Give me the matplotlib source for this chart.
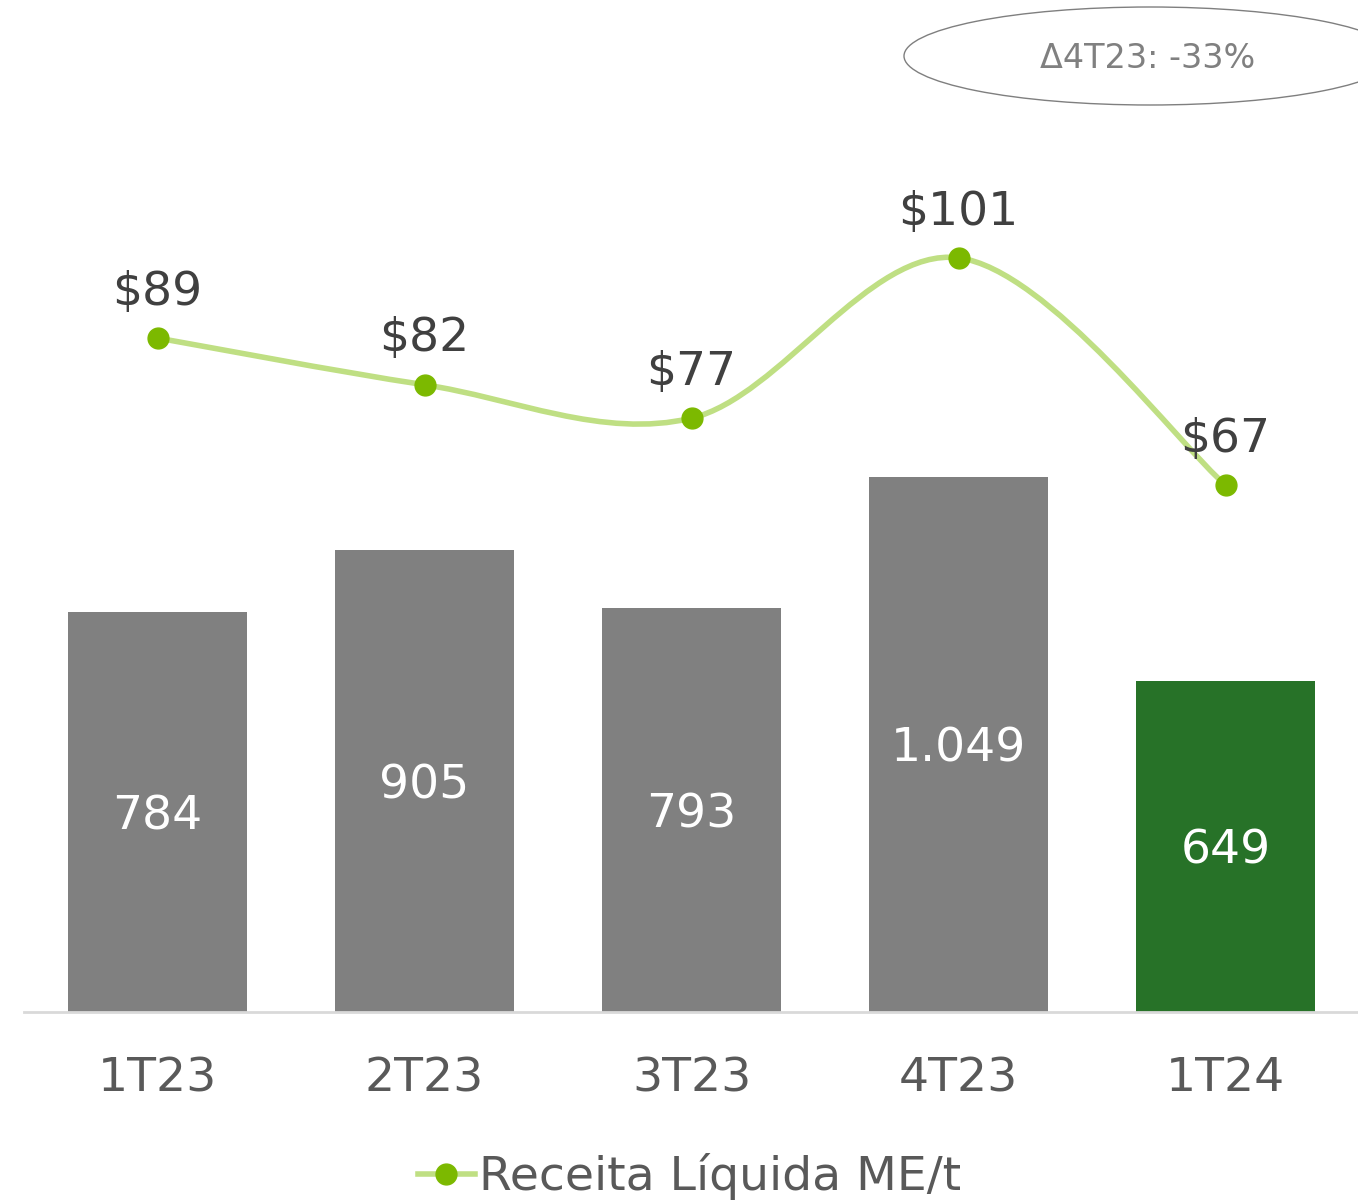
import matplotlib.pyplot as plt
from matplotlib.patches import Ellipse, PathPatch
from matplotlib.path import Path
from matplotlib.lines import Line2D
import numpy as np

plt.rcParams['font.family'] = ['DejaVu Sans']

quarters = ['1T23', '2T23', '3T23', '4T23', '1T24']
volume = [784, 905, 793, 1049, 649]
volume_labels = ['784', '905', '793', '1.049', '649']
receita = [89, 82, 77, 101, 67]
receita_labels = ['$89', '$82', '$77', '$101', '$67']
delta_text = 'Δ4T23: -33%'
legend_label = 'Receita Líquida ME/t'

bar_colors = ['#808080', '#808080', '#808080', '#808080', '#277228']
line_color = '#BFDF83'
marker_color = '#7CB900'

W, H = 1358, 1202
fig = plt.figure(figsize=(W / 100, H / 100), dpi=100)
ax = fig.add_axes([24 / W, (H - 1012) / H, 1335 / W, 1012 / H])
ax2 = ax.twinx()

x = np.arange(len(quarters))
ax.bar(x, volume, width=0.667, color=bar_colors, zorder=2)
ax.set_xlim(-0.5, 4.5)
ax.set_ylim(0, 1984)
for xi, v, lab in zip(x, volume, volume_labels):
    ax.text(xi, v / 2, lab, ha='center', va='center_baseline', color='white', fontsize=34)

ax.set_xticks(x)
ax.set_xticklabels(quarters, fontsize=34, color='#595959')
ax.tick_params(axis='x', length=0, pad=32)
ax.set_yticks([])
for s in ['top', 'left', 'right']:
    ax.spines[s].set_visible(False)
ax.spines['bottom'].set_color('#D9D9D9')
ax.spines['bottom'].set_linewidth(2)

# smoothed line (cubic bezier through the points)
ax2.set_ylim(-11.9, 139.6)
ax2.set_yticks([])
for s in ['top', 'left', 'right', 'bottom']:
    ax2.spines[s].set_visible(False)
pts = np.column_stack([x, receita]).astype(float)
ext = np.vstack([pts[0], pts, pts[-1]])
verts = [pts[0]]
codes = [Path.MOVETO]
for i in range(len(pts) - 1):
    p0, p1, p2, p3 = ext[i], ext[i + 1], ext[i + 2], ext[i + 3]
    verts += [p1 + (p2 - p0) / 6, p2 - (p3 - p1) / 6, p2]
    codes += [Path.CURVE4] * 3
ax2.add_patch(PathPatch(Path(verts, codes), facecolor='none', edgecolor=line_color, lw=4, zorder=3))
ax2.plot(x, receita, 'o', color=marker_color, ms=15, zorder=4)
for xi, v, lab in zip(x, receita, receita_labels):
    ax2.annotate(lab, (xi, v), xytext=(0, 33), textcoords='offset points',
                 ha='center', va='center', fontsize=34, color='#404040')

handle = Line2D([], [], color=line_color, lw=4, marker='o', ms=15,
                markerfacecolor=marker_color, markeredgecolor=marker_color)
fig.legend([handle], [legend_label], loc='center', bbox_to_anchor=(0.508, 0.021),
           frameon=False, fontsize=34, handlelength=1.2, handletextpad=0.1,
           labelcolor='#595959')

fig.add_artist(Ellipse((11.5, (H - 56) / 100), 4.92, 0.98, transform=fig.dpi_scale_trans,
                       facecolor='none', edgecolor='#7F7F7F', lw=1))
fig.text(1148 / W, (H - 59) / H, delta_text, ha='center', va='center', fontsize=24, color='#808080')

fig.savefig('out.png', dpi=100)
